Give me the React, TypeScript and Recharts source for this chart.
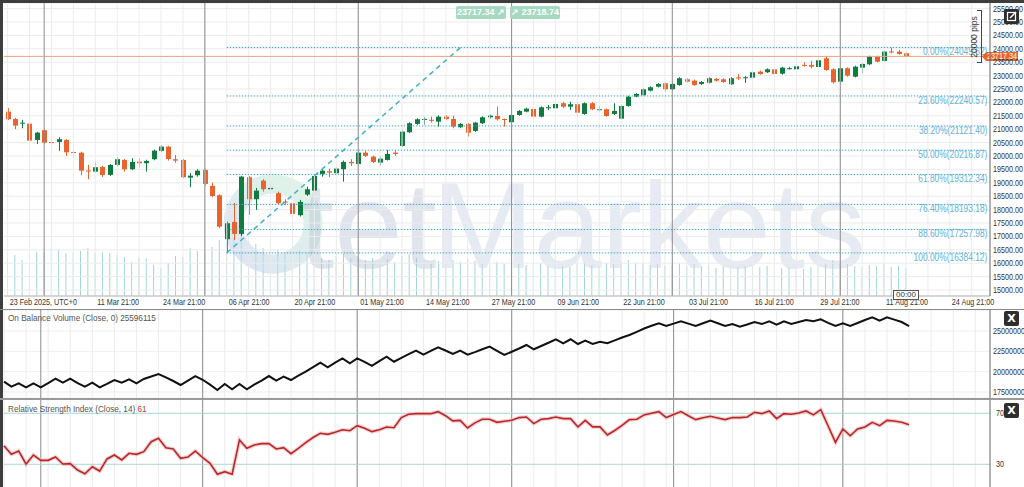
import React from "react";
import {
  ComposedChart,
  Bar,
  Line,
  XAxis,
  YAxis,
  CartesianGrid,
  ReferenceLine,
} from "recharts";

const FONT = "'Liberation Sans', Arial, sans-serif";
const NARROW = 0.8; // the terminal uses a condensed face; squeeze regular Liberation Sans

// daily candles, 23 Feb 2025 .. 14 Aug 2025 (bars open Sun-Thu 21:00 UTC)
const open = [21655,21380,21207,21207,20599,20961,20520,20524,20599,20150,
20125,19460,19417,19592,19294,19667,19853,19506,19790,19730,
19880,20190,20350,19880,19853,19192,19282,19480,18884,18536,
16895,17540,17093,19208,18387,19081,18760,18611,18300,18238,
17790,18560,18709,19331,19431,19357,19506,19779,19704,20126,
19976,19752,19853,20126,20375,20886,21196,21345,21350,21282,
21468,21382,21073,21196,20935,21222,21445,21494,21380,21259,
21532,21655,21755,21468,21815,21781,21968,21841,21930,21569,
21968,21740,21744,21569,21394,21867,22214,22267,22438,22587,
22714,22490,22651,22863,22811,22688,22736,22874,22863,22677,
22930,22901,22923,23147,23124,23236,23072,23270,23236,23400,
23397,23322,23646,23236,22774,23274,22960,23296,23423,23706,
23546,23900,23893,23833];
const high = [21793,21420,21345,21282,20900,20990,20673,20700,20625,20250,
20160,19667,19790,19630,19700,19954,19890,19916,19916,19860,
20240,20400,20375,20040,19900,19357,19506,19530,19006,18570,
17560,18250,19260,19250,18809,19133,19006,18671,18387,18260,
18361,18857,19305,19506,19530,19580,19830,19880,20170,20180,
20010,19976,20226,20226,20960,21260,21408,21445,21470,21520,
21530,21505,21230,21230,21270,21480,21540,21841,21395,21570,
21720,21800,21790,21850,21905,21980,22028,22028,21968,22000,
22010,21867,21770,21968,21900,22250,22350,22530,22600,22720,
22750,22720,22940,22900,22850,22800,22940,22910,22900,22940,
23050,22980,23160,23190,23270,23270,23330,23330,23380,23497,
23557,23610,23706,23270,23310,23310,23370,23470,23740,23740,
23930,24049.62,23960,23860];
const low = [21345,21000,21036,20540,20450,20460,20040,20190,20000,19976,
19282,19134,19380,19210,19260,19600,19417,19470,19580,19417,
19840,20150,19830,19750,19170,18835,19230,18900,18462,17305,
16384.12,16869,17000,17801,17988,18671,18671,18175,18175,17615,
17740,18511,18610,19230,19208,19330,19044,19630,19680,19960,
19740,19630,19830,20003,20340,20860,21159,21159,21245,21096,
21345,21036,21040,20722,20900,21190,21400,21320,21096,21230,
21500,21630,21430,21440,21718,21750,21781,21718,21468,21540,
21720,21655,21468,21532,21370,21840,22190,22240,22410,22560,
22400,22460,22620,22740,22620,22650,22700,22780,22730,22650,
22837,22725,22890,23030,23100,23030,23040,23230,23210,23333,
23273,23290,23180,22700,22740,22960,22930,23098,23390,23490,
23520,23833,23780,23690];
const close = [21371,21133,21244,20573,20871,20498,20510,20625,20140,20130,
19454,19440,19581,19294,19667,19880,19506,19779,19730,19816,
20200,20350,19890,19827,19208,19267,19454,18958,18510,17365,
17492,17093,19230,18387,18708,18760,18809,18238,18280,17839,
18287,18760,19256,19454,19380,19530,19779,19730,20126,20003,
19779,19902,20077,20077,20909,21222,21371,21382,21345,21468,
21382,21096,21196,20871,21245,21445,21505,21371,21371,21532,
21681,21767,21468,21818,21820,21942,21841,21930,21617,21968,
21744,21745,21494,21681,21867,22214,22315,22490,22565,22688,
22490,22688,22901,22774,22651,22763,22901,22811,22763,22901,
22920,22938,23124,23061,23236,23061,23296,23275,23348,23390,
23333,23572,23210,22751,23274,22997,23333,23434,23706,23520,
23893,23890,23807,23717.34];

// tick volume (relative)
const volume = [37,41,36,43,44,44,49,46,43,44,
45,48,43,44,43,41,39,34,38,38,
31,28,33,40,39,48,45,45,49,56,
54,60,62,55,52,48,44,46,42,45,
47,44,40,38,36,40,42,38,40,36,
38,35,37,34,40,42,38,36,33,35,
32,36,34,37,35,33,30,34,32,35,
33,31,34,33,30,32,30,29,33,34,
31,30,33,32,35,36,33,34,31,32,
30,31,33,30,32,29,31,28,30,31,
29,30,32,29,30,31,28,29,30,27,
29,31,33,36,34,32,30,29,31,30,
32,29,30,28];

// On Balance Volume, millions
const obv = [18.77,18.15,18.57,18.07,18.57,18.07,18.6,19.13,18.64,19.13,
18.6,18.15,18.64,18.07,18.5,18.97,18.64,19.06,18.57,19.1,
19.4,19.71,19.3,18.85,18.36,18.9,19.46,19.0,18.4,17.74,
18.48,17.83,18.48,17.83,18.4,18.9,19.46,18.89,19.38,18.97,
19.5,20.0,20.55,21.1,20.53,21.1,21.64,21.03,21.64,21.2,
20.7,21.3,21.84,21.22,21.7,22.15,22.58,22.09,22.55,22.99,
22.6,22.17,22.58,22.09,22.4,22.75,23.07,22.55,22.05,22.45,
22.85,23.28,22.75,23.15,23.55,23.98,23.49,23.98,23.4,23.81,
23.4,23.68,23.49,23.85,24.2,24.51,24.9,25.3,25.65,25.95,
25.62,25.9,26.19,25.9,25.62,25.95,26.27,25.95,25.62,25.86,
25.53,25.8,26.11,25.86,26.19,25.78,26.19,25.86,26.1,26.35,
26.19,26.44,26.0,25.62,25.95,25.62,25.98,26.35,26.69,26.27,
26.69,26.4,26.1,25.6];

const rsi = [44.6,37.8,40.4,30.2,37.3,33.1,33.1,35.7,30.2,30.5,
25.5,22.6,28.1,24.7,34.2,37.3,33.4,38.6,37.8,39.9,
47.7,50.4,43.0,42.0,34.7,35.7,40.4,35.2,30.8,22.2,
24.2,22.2,49.1,42.5,45.1,46.2,46.2,42.0,43.0,38.3,
42.5,47.0,51.0,54.3,53.5,55.1,57.1,56.3,60.3,58.3,
55.6,57.1,59.2,58.7,66.6,69.2,69.7,69.7,69.7,71.3,
68.1,64.0,64.4,58.5,62.5,65.3,65.3,62.9,63.8,64.5,
66.6,67.1,61.9,65.3,65.8,67.1,65.8,65.8,59.3,64.4,
59.3,59.3,53.0,56.5,60.5,65.0,65.3,68.7,70.0,71.3,
66.6,69.0,71.3,68.0,65.0,66.5,67.6,66.3,65.0,66.6,
66.6,67.1,70.8,69.7,71.8,65.8,69.7,69.2,70.2,71.8,
68.7,72.8,60.0,47.2,57.7,52.4,57.7,59.2,62.9,60.3,
64.4,63.9,62.9,61.0];

const tickIdx = [0, 12, 21, 30, 39, 48, 57, 66, 75, 84, 93, 102, 111, 120, 129];
const tickText = ["23 Feb 2025, UTC+0", "11 Mar 21:00", "24 Mar 21:00", "06 Apr 21:00",
  "20 Apr 21:00", "01 May 21:00", "14 May 21:00", "27 May 21:00", "09 Jun 21:00",
  "22 Jun 21:00", "03 Jul 21:00", "16 Jul 21:00", "29 Jul 21:00", "11 Aug 21:00",
  "24 Aug 21:00"];
const monthStarts = [5, 27, 48, 69, 91, 114];

const priceTicks = [15000,15500,16000,16500,17000,17500,18000,18500,19000,19500,20000,
  20500,21000,21500,22000,22500,23000,23500,24000,24500,25000,25500];
const obvTicks = [17.5, 20, 22.5, 25];
const rsiTicks = [30, 70];

const fibPct = ["0.00%", "23.60%", "38.20%", "50.00%", "61.80%", "76.40%", "88.60%", "100.00%"];
const fibValue = [24049.62, 22240.57, 21121.4, 20216.87, 19312.34, 18193.18, 17257.98, 16384.12];
const swingLowIdx = 30;
const lastPrice = 23717.34;

const SLOTS = 135;
const rows = Array.from({ length: SLOTS }, (_, i) =>
  i < open.length
    ? { i, o: open[i], h: high[i], l: low[i], c: close[i], range: [low[i], high[i]], vol: volume[i], obv: obv[i], rsi: rsi[i] }
    : { i, range: null, vol: null, obv: null, rsi: null }
);
const gridIdx = Array.from({ length: 45 }, (_, k) => k * 3);

const UP = "#117a41";
const DOWN = "#e8632e";

const Candle = (props: any) => {
  const { x, y, width, height, payload } = props;
  if (!payload || payload.o == null) return null;
  const { o, h, l, c } = payload;
  const top = height < 0 ? y + height : y;
  const hh = Math.abs(height);
  const k = h > l ? hh / (h - l) : 0;
  const yo = top + (h - o) * k;
  const yc = top + (h - c) * k;
  const color = c >= o ? UP : DOWN;
  const cx = Math.round(x + width / 2) + 0.5;
  return (
    <g>
      <line x1={cx} x2={cx} y1={top} y2={top + hh} stroke={color} strokeWidth={1} />
      <rect x={cx - 2.5} y={Math.min(yo, yc)} width={5} height={Math.max(1, Math.abs(yo - yc))} fill={color} />
    </g>
  );
};

// condensed svg text
const CText = ({ x, y, size, fill, anchor, children }: any) => (
  <text transform={`translate(${x} ${y}) scale(${NARROW} 1)`} fontSize={size} fill={fill} textAnchor={anchor || "start"} fontFamily={FONT}>
    {children}
  </text>
);

const XTick = (props: any) => {
  const { x, y, payload } = props;
  const k = tickIdx.indexOf(payload.value);
  if (k < 0) return <g />;
  return <CText x={x + 2} y={y + 9} size={9} fill="#333">{tickText[k]}</CText>;
};

const YTick = (props: any) => {
  const { x, y, payload, fmt } = props;
  return <CText x={x} y={y + 3} size={9} fill="#333">{fmt(payload.value)}</CText>;
};

const FibLabel = (props: any) => {
  const { viewBox, text } = props;
  if (!viewBox) return null;
  return (
    <CText x={viewBox.x + viewBox.width + 1} y={viewBox.y + 8} size={10.5} fill="#62b3d6" anchor="end">
      {text}
    </CText>
  );
};

const PriceTag = (props: any) => {
  const { viewBox } = props;
  if (!viewBox) return null;
  const x = viewBox.x + viewBox.width - 8;
  const y = viewBox.y;
  return (
    <g>
      <path d={`M ${x} ${y} L ${x + 4} ${y - 4.5} L ${x + 36} ${y - 4.5} L ${x + 36} ${y + 4.5} L ${x + 4} ${y + 4.5} Z`} fill="#e8652d" />
      <CText x={x + 5} y={y + 3} size={9} fill="#fff">{lastPrice.toFixed(2)}</CText>
    </g>
  );
};

function verticalLines() {
  return [
    ...gridIdx.map((g) => (
      <ReferenceLine key={"g" + g} x={g} stroke="#ececec" strokeWidth={1} />
    )),
    ...monthStarts.map((m) => (
      <ReferenceLine key={"m" + m} x={m} stroke="#8c8c8c" strokeWidth={1} />
    )),
  ];
}

const closeBtn = (top: number) => (
  <div style={{ position: "absolute", left: 1004, top, width: 15, height: 15, background: "#2e2e2e", borderRadius: 2, color: "#fff", fontSize: 11, fontWeight: 700, textAlign: "center", lineHeight: "15px", fontFamily: "DejaVu Sans" }}>
    X
  </div>
);

const squeeze = { transform: `scaleX(${NARROW + 0.06})`, transformOrigin: "left top", whiteSpace: "nowrap" as const };

export default function App() {
  return (
    <div style={{ position: "absolute", left: 0, top: 0, width: 1024, height: 487, background: "#fff", overflow: "hidden", fontFamily: FONT }}>
      {/* volume layer */}
      <div style={{ position: "absolute", left: 0, top: 0 }}>
        <ComposedChart width={1024} height={309} data={rows} margin={{ top: 3, right: 34, bottom: 13, left: 4 }}>
          <XAxis dataKey="i" hide />
          <YAxis yAxisId="v" hide domain={[0, 293]} allowDataOverflow />
          <Bar yAxisId="v" dataKey="vol" barSize={1} fill="#a3d4d4" isAnimationActive={false} />
        </ComposedChart>
      </div>

      {/* watermark */}
      <svg width={1024} height={309} style={{ position: "absolute", left: 0, top: 0 }}>
        <defs>
          <linearGradient id="wm" x1="0" y1="1" x2="1" y2="0">
            <stop offset="0" stopColor="#c7d3ee" />
            <stop offset="1" stopColor="#c6efd7" />
          </linearGradient>
        </defs>
        <circle cx={273} cy={224} r={40} fill="none" stroke="url(#wm)" strokeWidth={19} opacity={0.6} />
        <text x={300} y={268} fontSize={123} fill="#b9c4d8" opacity={0.45} fontFamily={FONT}>tet</text>
        <text x={432} y={268} fontSize={122} fill="#cad4e6" opacity={0.45} fontFamily={FONT}>Markets</text>
      </svg>

      {/* price pane */}
      <div style={{ position: "absolute", left: 0, top: 0 }}>
        <ComposedChart width={1024} height={309} data={rows} margin={{ top: 3, right: 0, bottom: 0, left: 4 }}>
          <CartesianGrid vertical={false} stroke="#ececec" />
          <XAxis dataKey="i" interval={0} height={13} tickLine={false} tickSize={0} tickMargin={0} axisLine={{ stroke: "#b5b5b5" }} tick={<XTick />} />
          <YAxis orientation="right" width={34} domain={[14776, 25709]} allowDataOverflow ticks={priceTicks} interval={0} tickLine={false} tickSize={0} tickMargin={3} axisLine={{ stroke: "#666" }} tick={(p: any) => <YTick {...p} fmt={(v: number) => v.toFixed(2)} />} />
          {verticalLines()}
          {fibValue.map((v, k) => (
            <ReferenceLine key={"f" + k} segment={[{ x: swingLowIdx, y: v }, { x: SLOTS - 1, y: v }]} stroke="#4aa3c2" strokeDasharray="1.5 1.5" strokeWidth={1} label={<FibLabel text={`${fibPct[k]}(${v.toFixed(2)})`} />} />
          ))}
          <Bar dataKey="range" barSize={5} shape={<Candle />} isAnimationActive={false} />
          <ReferenceLine segment={[{ x: swingLowIdx, y: fibValue[7] }, { x: 62, y: fibValue[0] }]} stroke="#3fb0c8" strokeDasharray="5 4" strokeWidth={1.5} />
          <ReferenceLine y={lastPrice} stroke="#e6a27c" strokeWidth={1} label={<PriceTag />} />
        </ComposedChart>
      </div>

      {/* OBV pane */}
      <div style={{ position: "absolute", left: 0, top: 309 }}>
        <ComposedChart width={1024} height={90} data={rows} margin={{ top: 1, right: 0, bottom: 1, left: 4 }}>
          <CartesianGrid vertical={false} stroke="#eeeeee" />
          <XAxis dataKey="i" hide />
          <YAxis orientation="right" width={34} domain={[16.76, 27.58]} allowDataOverflow ticks={obvTicks} interval={0} tickLine={false} tickSize={0} tickMargin={3} axisLine={{ stroke: "#666" }} tick={(p: any) => <YTick {...p} fmt={(v: number) => String(Math.round(v * 1e6))} />} />
          {verticalLines()}
          <Line dataKey="obv" stroke="#111" strokeWidth={2} dot={false} isAnimationActive={false} />
        </ComposedChart>
      </div>

      {/* RSI pane */}
      <div style={{ position: "absolute", left: 0, top: 399 }}>
        <ComposedChart width={1024} height={88} data={rows} margin={{ top: 1, right: 0, bottom: 0, left: 4 }}>
          <XAxis dataKey="i" hide />
          <YAxis orientation="right" width={34} domain={[12.2, 80.4]} allowDataOverflow ticks={rsiTicks} interval={0} tickLine={false} tickSize={0} tickMargin={6} axisLine={{ stroke: "#666" }} tick={(p: any) => <YTick {...p} fmt={(v: number) => String(v)} />} />
          {verticalLines()}
          <ReferenceLine y={70} stroke="#a6d6d6" strokeWidth={1} />
          <ReferenceLine y={30} stroke="#a6d6d6" strokeWidth={1} />
          <Line dataKey="rsi" stroke="#f0b4b4" strokeWidth={4} strokeOpacity={0.6} dot={false} isAnimationActive={false} />
          <Line dataKey="rsi" stroke="#b8282a" strokeWidth={1.6} dot={false} isAnimationActive={false} />
        </ComposedChart>
      </div>

      {/* frame and pane separators */}
      <div style={{ position: "absolute", left: 0, top: 0, width: 1024, height: 3, background: "#3d3d3d" }} />
      <div style={{ position: "absolute", left: 0, top: 0, width: 3, height: 487, background: "#3d3d3d" }} />
      <div style={{ position: "absolute", left: 0, top: 309, width: 1024, height: 1, background: "#8a8a8a" }} />
      <div style={{ position: "absolute", left: 0, top: 398, width: 1024, height: 2, background: "#9a9a9a" }} />

      {/* pane titles */}
      <div style={{ position: "absolute", left: 8, top: 312, fontSize: 9.5, color: "#555", ...squeeze }}>
        On Balance Volume (Close, 0) 25596115
      </div>
      <div style={{ position: "absolute", left: 8, top: 403, fontSize: 9.5, color: "#555", ...squeeze }}>
        Relative Strength Index (Close, 14) <span style={{ color: "#c0392b" }}>61</span>
      </div>

      {/* top badges */}
      <div style={{ position: "absolute", left: 456, top: 6, width: 50, height: 13, background: "#a7d8c0", color: "#fff", fontSize: 9, fontWeight: 700, textAlign: "center", lineHeight: "13px", borderRadius: 2 }}>
        23717.34 ↗
      </div>
      <div style={{ position: "absolute", left: 510, top: 6, width: 50, height: 13, background: "#a7d8c0", color: "#fff", fontSize: 9, fontWeight: 700, textAlign: "center", lineHeight: "13px", borderRadius: 2 }}>
        ↗ 23718.74
      </div>

      {/* pips ruler and top-right icon */}
      <svg width={1024} height={80} style={{ position: "absolute", left: 0, top: 0 }}>
        <line x1={981.5} x2={981.5} y1={10} y2={63} stroke="#444" />
        <line x1={977} x2={981.5} y1={10.5} y2={10.5} stroke="#444" />
        <line x1={977} x2={981.5} y1={62.5} y2={62.5} stroke="#444" />
        <text x={977} y={37} transform="rotate(-90 977 37)" textAnchor="middle" fontSize={8.5} fill="#333" fontFamily={FONT}>
          20000 pips
        </text>
        <rect x={1004} y={9} width={15} height={15} rx={2} fill="#2e2e2e" />
        <rect x={1007.5} y={12.5} width={8} height={8} fill="none" stroke="#fff" strokeWidth={1.2} />
        <line x1={1010} x2={1016} y1={18} y2={12} stroke="#fff" strokeWidth={1.4} />
      </svg>

      {/* crosshair time label */}
      <div style={{ position: "absolute", left: 893, top: 290, width: 24, height: 8, border: "1px solid #555", background: "#fff", fontSize: 8, lineHeight: "8px", textAlign: "center", color: "#333" }}>
        00:00
      </div>

      {closeBtn(311)}
      {closeBtn(403)}
    </div>
  );
}
